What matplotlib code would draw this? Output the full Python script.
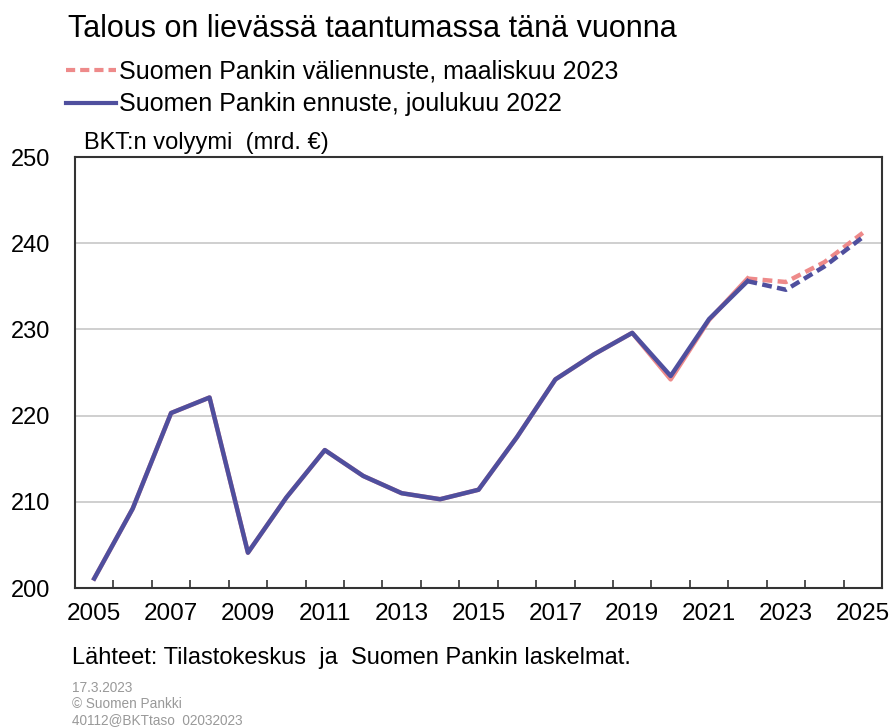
import matplotlib.pyplot as plt

# BKT:n volyymi (mrd. €)
years = list(range(2005, 2026))
march_2023 = [201.1, 209.2, 220.3, 222.1, 204.1, 210.5, 216.0, 213.0, 211.0, 210.3,
              211.4, 217.5, 224.2, 227.1, 229.6, 224.2, 231.1, 235.9, 235.5, 237.8, 241.2]
dec_2022 = [201.1, 209.2, 220.3, 222.1, 204.1, 210.5, 216.0, 213.0, 211.0, 210.3,
            211.4, 217.5, 224.2, 227.1, 229.6, 224.6, 231.2, 235.6, 234.6, 237.3, 240.7]
forecast_start = 2022
tick_years = list(range(2005, 2026, 2))

blue = '#4F4F9E'
red = '#EE8A8A'
plt.rcParams['font.family'] = ['Liberation Sans', 'DejaVu Sans']

fig = plt.figure(figsize=(8.93, 7.28), dpi=100)
ax = fig.add_axes([0.084, 0.1923, 0.9037, 0.592])

fi = years.index(forecast_start)
# red (March 2023) under, blue on top
ax.plot(years[:fi + 1], march_2023[:fi + 1], color=red, lw=3.2, zorder=2)
ax.plot(years[fi:], march_2023[fi:], color=red, lw=3.2, ls=(0, (2.2, 1.2)), zorder=2)
ax.plot(years[:fi + 1], dec_2022[:fi + 1], color=blue, lw=3.2, zorder=3)
ax.plot(years[fi:], dec_2022[fi:], color=blue, lw=3.2, ls=(0, (2.2, 1.2)), zorder=3)

ax.set_xlim(years[0] - 0.5, years[-1] + 0.5)
ax.set_ylim(200, 250)
ax.set_yticks(range(200, 251, 10))
ax.grid(axis='y', color='#CCCCCC', lw=1.3, zorder=0)
ax.tick_params(axis='y', length=0, pad=18, labelsize=17)

# category ticks between years, labels on odd years
ax.set_xticks([y + 0.5 for y in years[:-1]])
ax.set_xticklabels([])
ax.set_xticks(tick_years, minor=True)
ax.set_xticklabels([str(y) for y in tick_years], minor=True)
ax.tick_params(axis='x', which='major', direction='in', length=6, width=1.2, color='#333333')
ax.tick_params(axis='x', which='minor', length=0, pad=11, labelsize=17.5)

for s in ax.spines.values():
    s.set_color('#333333')
    s.set_linewidth(1.5)

fig.text(0.076, 0.960, 'Talous on lievässä taantumassa tänä vuonna',
         fontsize=22, va='center')
fig.text(0.094, 0.804, 'BKT:n volyymi  (mrd. €)', fontsize=17, va='center')

h1, = ax.plot([], [], color=red, lw=3, ls=(0, (2.2, 1.2)))
h2, = ax.plot([], [], color=blue, lw=3)
fig.legend([h1, h2], ['Suomen Pankin väliennuste, maaliskuu 2023',
                      'Suomen Pankin ennuste, joulukuu 2022'],
           loc='upper left', bbox_to_anchor=(0.074, 0.918), frameon=False,
           handlelength=2.0, handletextpad=0.1, labelspacing=0.35,
           prop={'size': 18}, borderaxespad=0, borderpad=0)

fig.text(0.081, 0.096, 'Lähteet: Tilastokeskus  ja  Suomen Pankin laskelmat.',
         fontsize=17, va='center')
fig.text(0.081, 0.033, '17.3.2023\n© Suomen Pankki\n40112@BKTtaso  02032023',
         fontsize=9.8, color='#999999', va='center', linespacing=1.15)

fig.savefig('out.png', dpi=100)
